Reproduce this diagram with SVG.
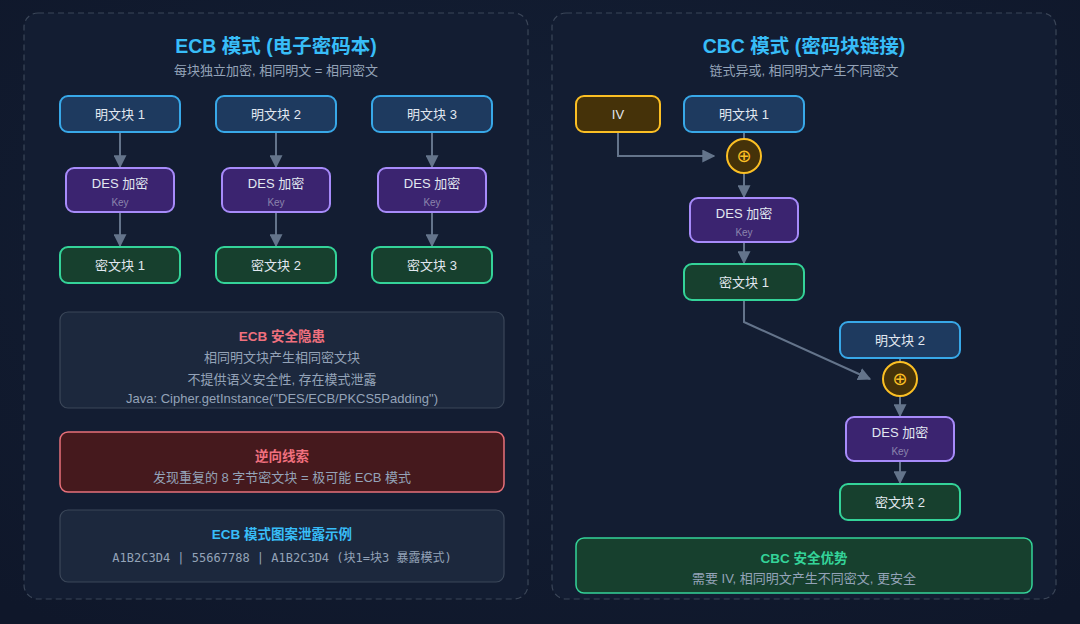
<svg xmlns="http://www.w3.org/2000/svg" width="1080" height="624" viewBox="0 0 1080 624">
<defs>
<marker id="ah" viewBox="0 0 10 10" refX="9" refY="5" markerWidth="13" markerHeight="13" markerUnits="userSpaceOnUse" orient="auto"><path d="M0,0 L10,5 L0,10 z" fill="#64748b"/></marker>
<radialGradient id="bg" cx="50%" cy="40%" r="75%"><stop offset="0" stop-color="#142036"/><stop offset="1" stop-color="#0f172a"/></radialGradient>
</defs>
<style>
text{font-family:"Liberation Sans","Noto Sans CJK SC",sans-serif;text-anchor:middle}
.panel{fill:#131d32;stroke:#3b4658;stroke-width:1.2;stroke-dasharray:6 4}
.title{font-size:19.5px;font-weight:700;fill:#38bdf8}
.sub{font-size:13px;fill:#94a3b8}
.pt rect{fill:#1e3a5f;stroke:#38a8e8;stroke-width:2}
.enc rect{fill:#3b2470;stroke:#a78bfa;stroke-width:2}
.ct rect{fill:#17402e;stroke:#34d399;stroke-width:2}
.iv rect{fill:#453209;stroke:#fbbf24;stroke-width:2}
.xor circle{fill:#453209;stroke:#fbbf24;stroke-width:2}
.xor text{font-family:"DejaVu Sans",sans-serif;font-size:18px;fill:#fbbf24}
.lbl{font-size:13px;fill:#e2e8f0}
.key{font-size:10px;fill:#8b84ad}
.conn path,.conn line,.conn polyline{stroke:#64748b;stroke-width:2;fill:none}
.info rect{fill:#1c283d;stroke:#3b4759;stroke-width:1.2}
.warn rect{fill:#45191d;stroke:#e8707a;stroke-width:1.5}
.good rect{fill:#17402e;stroke:#34d399;stroke-width:1.5}
.h{font-size:13.5px;font-weight:700}
.t{font-size:13px;fill:#94a3b8}
.mono{font-family:"DejaVu Sans Mono","Noto Sans CJK SC",monospace;font-size:12px;fill:#94a3b8}
</style>
<rect width="1080" height="624" fill="url(#bg)"/>
<rect class="panel" x="24" y="13" width="504" height="586" rx="14"/>
<rect class="panel" x="552" y="13" width="504" height="586" rx="14"/>
<text class="title" x="276" y="53">ECB 模式 (电子密码本)</text>
<text class="sub" x="276" y="75">每块独立加密, 相同明文 = 相同密文</text>
<text class="title" x="804" y="53">CBC 模式 (密码块链接)</text>
<text class="sub" x="804" y="75">链式异或, 相同明文产生不同密文</text>
<g class="conn">
<line x1="120" y1="132" x2="120" y2="167" marker-end="url(#ah)"/>
<line x1="120" y1="212" x2="120" y2="246" marker-end="url(#ah)"/>
<line x1="276" y1="132" x2="276" y2="167" marker-end="url(#ah)"/>
<line x1="276" y1="212" x2="276" y2="246" marker-end="url(#ah)"/>
<line x1="432" y1="132" x2="432" y2="167" marker-end="url(#ah)"/>
<line x1="432" y1="212" x2="432" y2="246" marker-end="url(#ah)"/>
<line x1="744" y1="132" x2="744" y2="139"/>
<polyline points="618,132 618,156 714,156" marker-end="url(#ah)"/>
<line x1="744" y1="173" x2="744" y2="197" marker-end="url(#ah)"/>
<line x1="744" y1="242" x2="744" y2="263" marker-end="url(#ah)"/>
<polyline points="744,300 744,322 870,379" marker-end="url(#ah)"/>
<line x1="900" y1="358" x2="900" y2="362"/>
<line x1="900" y1="396" x2="900" y2="416" marker-end="url(#ah)"/>
<line x1="900" y1="461" x2="900" y2="483" marker-end="url(#ah)"/>
</g>
<g id="ecb-p1" class="pt"><rect x="60" y="96" width="120" height="36" rx="8"/><text class="lbl" x="120" y="119">明文块 1</text></g>
<g id="ecb-p2" class="pt"><rect x="216" y="96" width="120" height="36" rx="8"/><text class="lbl" x="276" y="119">明文块 2</text></g>
<g id="ecb-p3" class="pt"><rect x="372" y="96" width="120" height="36" rx="8"/><text class="lbl" x="432" y="119">明文块 3</text></g>
<g id="ecb-e1" class="enc"><rect x="66" y="168" width="108" height="44" rx="8"/><text class="lbl" x="120" y="188">DES 加密</text><text class="key" x="120" y="206">Key</text></g>
<g id="ecb-e2" class="enc"><rect x="222" y="168" width="108" height="44" rx="8"/><text class="lbl" x="276" y="188">DES 加密</text><text class="key" x="276" y="206">Key</text></g>
<g id="ecb-e3" class="enc"><rect x="378" y="168" width="108" height="44" rx="8"/><text class="lbl" x="432" y="188">DES 加密</text><text class="key" x="432" y="206">Key</text></g>
<g id="ecb-c1" class="ct"><rect x="60" y="247" width="120" height="36" rx="8"/><text class="lbl" x="120" y="270">密文块 1</text></g>
<g id="ecb-c2" class="ct"><rect x="216" y="247" width="120" height="36" rx="8"/><text class="lbl" x="276" y="270">密文块 2</text></g>
<g id="ecb-c3" class="ct"><rect x="372" y="247" width="120" height="36" rx="8"/><text class="lbl" x="432" y="270">密文块 3</text></g>
<g id="ecb-risk" class="info"><rect x="60" y="312" width="444" height="96" rx="8"/>
<text class="h" x="282" y="341" fill="#f0707e">ECB 安全隐患</text>
<text class="t" x="282" y="362">相同明文块产生相同密文块</text>
<text class="t" x="282" y="384">不提供语义安全性, 存在模式泄露</text>
<text class="t" x="282" y="403">Java: Cipher.getInstance("DES/ECB/PKCS5Padding")</text></g>
<g id="ecb-clue" class="warn"><rect x="60" y="432" width="444" height="60" rx="8"/>
<text class="h" x="282" y="461" fill="#f0707e">逆向线索</text>
<text class="t" x="282" y="482" fill="#cbd5e1">发现重复的 8 字节密文块 = 极可能 ECB 模式</text></g>
<g id="ecb-demo" class="info"><rect x="60" y="510" width="444" height="72" rx="8"/>
<text class="h" x="282" y="539" fill="#38bdf8">ECB 模式图案泄露示例</text>
<text class="mono" x="282" y="562">A1B2C3D4 | 55667788 | A1B2C3D4 (块1=块3 暴露模式)</text></g>
<g id="cbc-iv" class="iv"><rect x="576" y="96" width="84" height="36" rx="8"/><text class="lbl" x="618" y="119">IV</text></g>
<g id="cbc-p1" class="pt"><rect x="684" y="96" width="120" height="36" rx="8"/><text class="lbl" x="744" y="119">明文块 1</text></g>
<g id="cbc-x1" class="xor"><circle cx="744" cy="156" r="17"/><text x="744" y="162">⊕</text></g>
<g id="cbc-e1" class="enc"><rect x="690" y="198" width="108" height="44" rx="8"/><text class="lbl" x="744" y="218">DES 加密</text><text class="key" x="744" y="236">Key</text></g>
<g id="cbc-c1" class="ct"><rect x="684" y="264" width="120" height="36" rx="8"/><text class="lbl" x="744" y="287">密文块 1</text></g>
<g id="cbc-p2" class="pt"><rect x="840" y="322" width="120" height="36" rx="8"/><text class="lbl" x="900" y="345">明文块 2</text></g>
<g id="cbc-x2" class="xor"><circle cx="900" cy="379" r="17"/><text x="900" y="385">⊕</text></g>
<g id="cbc-e2" class="enc"><rect x="846" y="417" width="108" height="44" rx="8"/><text class="lbl" x="900" y="437">DES 加密</text><text class="key" x="900" y="455">Key</text></g>
<g id="cbc-c2" class="ct"><rect x="840" y="484" width="120" height="36" rx="8"/><text class="lbl" x="900" y="507">密文块 2</text></g>
<g id="cbc-adv" class="good"><rect x="576" y="538" width="456" height="55" rx="8"/>
<text class="h" x="804" y="563" fill="#34d399">CBC 安全优势</text>
<text class="t" x="804" y="583">需要 IV, 相同明文产生不同密文, 更安全</text></g>
</svg>
